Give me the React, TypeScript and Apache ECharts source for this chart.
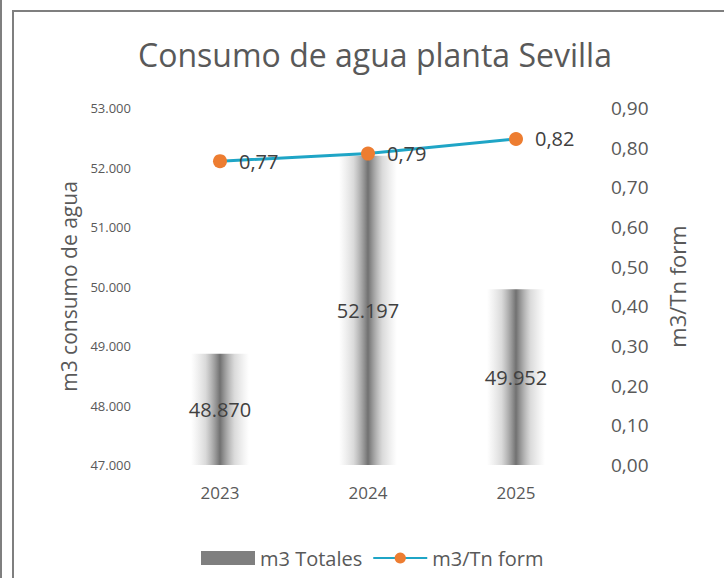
import React, { useEffect, useRef } from "react";
import * as echarts from "echarts";

const categories = ["2023", "2024", "2025"];
const totals = [48870, 52197, 49952];
const perTon = [0.766, 0.785, 0.822];
const leftTicks = { min: 47000, max: 53000, interval: 1000 };
const rightTicks = { min: 0, max: 0.9, interval: 0.1 };

const FONT = "Open Sans";
const fmtThousands = (v: number) =>
  Math.round(v).toString().replace(/\B(?=(\d{3})+(?!\d))/g, ".");
const fmtComma = (v: number) => v.toFixed(2).replace(".", ",");

export default function App() {
  const ref = useRef<HTMLDivElement>(null);
  useEffect(() => {
    if (!ref.current) return;
    const chart = echarts.init(ref.current, null, { renderer: "svg" });
    chart.setOption({
      animation: false,
      backgroundColor: "#ffffff",
      textStyle: { fontFamily: FONT },
      title: {
        text: "Consumo de agua planta Sevilla",
        left: 370,
        textAlign: "center",
        top: 33,
        textStyle: { fontFamily: FONT, fontSize: 32, fontWeight: "normal", color: "#595959" },
      },
      graphic: [
        { type: "rect", shape: { x: 0, y: 0, width: 2, height: 578 }, style: { fill: "#7f7f7f" } },
        {
          type: "rect",
          shape: { x: 13, y: 11, width: 900, height: 900 },
          style: { fill: "none", stroke: "#7f7f7f", lineWidth: 2 },
          z: -1,
        },
      ],
      legend: {
        bottom: 5,
        left: 196,
        width: 520,
        itemWidth: 54,
        itemHeight: 14,
        itemGap: 10,
        textStyle: { fontFamily: FONT, fontSize: 20, color: "#595959" },
        data: [
          { name: "m3 Totales", icon: "rect", itemStyle: { color: "#7f7f7f" } },
          { name: "m3/Tn form" },
        ],
      },
      grid: { left: 146, right: 134, top: 108, bottom: 113 },
      xAxis: {
        type: "category",
        data: categories,
        axisLine: { show: false },
        axisTick: { show: false },
        axisLabel: { fontFamily: FONT, fontSize: 17, color: "#595959", margin: 19 },
      },
      yAxis: [
        {
          type: "value",
          ...leftTicks,
          name: "m3 consumo de agua",
          nameLocation: "middle",
          nameRotate: 90,
          nameGap: 66,
          nameTextStyle: { fontFamily: FONT, fontSize: 21, color: "#595959" },
          splitLine: { show: false },
          axisLine: { show: false },
          axisTick: { show: false },
          axisLabel: {
            fontFamily: FONT,
            fontSize: 13,
            color: "#595959",
            margin: 15,
            formatter: (v: number) => fmtThousands(v),
          },
        },
        {
          type: "value",
          ...rightTicks,
          name: "m3/Tn form",
          nameLocation: "middle",
          nameRotate: 90,
          nameGap: 76,
          nameTextStyle: { fontFamily: FONT, fontSize: 22, color: "#595959" },
          splitLine: { show: false },
          axisLine: { show: false },
          axisTick: { show: false },
          axisLabel: {
            fontFamily: FONT,
            fontSize: 19,
            color: "#595959",
            margin: 21,
            formatter: (v: number) => fmtComma(v),
          },
        },
      ],
      series: [
        {
          name: "m3 Totales",
          type: "bar",
          yAxisIndex: 0,
          data: totals,
          barWidth: 58,
          itemStyle: {
            color: new echarts.graphic.LinearGradient(0, 0, 1, 0, [
              { offset: 0, color: "rgba(170,170,170,0.0)" },
              { offset: 0.25, color: "rgba(150,150,150,0.35)" },
              { offset: 0.5, color: "rgba(105,105,105,0.95)" },
              { offset: 0.75, color: "rgba(150,150,150,0.35)" },
              { offset: 1, color: "rgba(170,170,170,0.0)" },
            ]),
          },
          label: {
            show: true,
            position: "inside",
            fontFamily: FONT,
            fontSize: 20,
            color: "#404040",
            formatter: (p: any) => fmtThousands(p.value),
          },
        },
        {
          name: "m3/Tn form",
          type: "line",
          yAxisIndex: 1,
          data: perTon,
          symbol: "circle",
          symbolSize: 14,
          lineStyle: { color: "#1fa5c6", width: 3 },
          itemStyle: { color: "#ed7d31" },
          label: {
            show: true,
            position: "right",
            distance: 12,
            fontFamily: FONT,
            fontSize: 20,
            color: "#404040",
            formatter: (p: any) => fmtComma(p.value),
          },
          z: 5,
        },
      ],
    });
    return () => chart.dispose();
  }, []);
  return (
    <div
      ref={ref}
      style={{ position: "fixed", left: 0, top: 0, width: 724, height: 578 }}
    />
  );
}
